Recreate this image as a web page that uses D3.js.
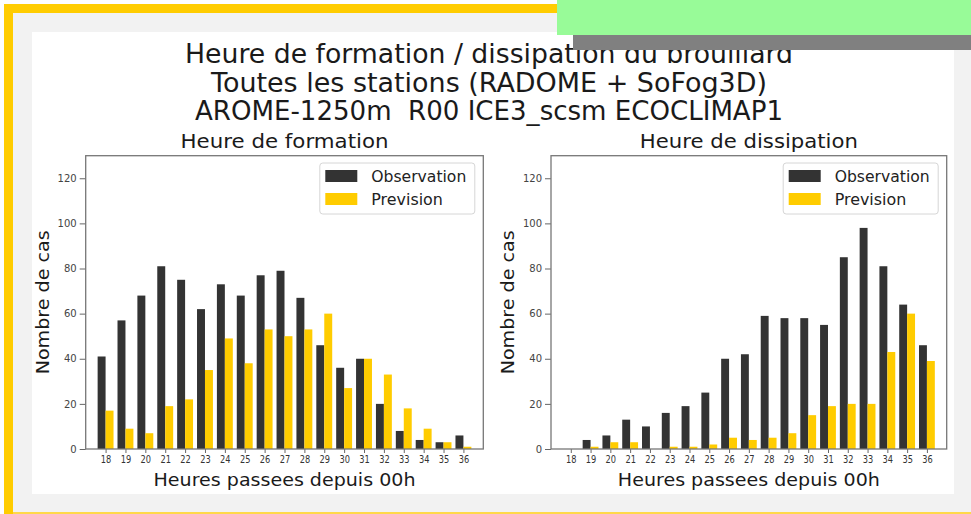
<!DOCTYPE html>
<html>
<head>
<meta charset="utf-8">
<script src="https://cdn.jsdelivr.net/npm/d3@7/dist/d3.min.js"></script>
<style>
  html, body { margin: 0; padding: 0; background: #fff; }
  svg { display: block; }
  text { font-family: "DejaVu Sans", sans-serif; }
</style>
</head>
<body>
<svg id="fig" width="971" height="514"></svg>
<script>
// Hours after 00h (18h of day D to 12h of day D+1)
const hours = [18,19,20,21,22,23,24,25,26,27,28,29,30,31,32,33,34,35,36];

// Fog onset counts
const formationObs  = [41,57,68,81,75,62,73,68,77,79,67,46,36,40,20,8,4,3,6];
const formationPrev = [17,9,7,19,22,35,49,38,53,50,53,60,27,40,33,18,9,3,1];

// Fog dissipation counts
const dissipationObs  = [0,4,6,13,10,16,19,25,40,42,59,58,58,55,85,98,81,64,46];
const dissipationPrev = [0,1,3,3,0,1,1,2,5,4,5,7,15,19,20,20,43,60,39];

const yTicks = [0,20,40,60,80,100,120];
const seriesNames = ["Observation", "Prevision"];
const titleLines = [
  "Heure de formation / dissipation du brouillard",
  "Toutes les stations (RADOME + SoFog3D)",
  "AROME-1250m  R00 ICE3_scsm ECOCLIMAP1"
];

const colObs = "#333333", colPrev = "#ffcc00";
const svg = d3.select("#fig");

// page frame
svg.append("rect").attr("x",0).attr("y",0).attr("width",971).attr("height",514).attr("fill","#fdfdfd");
svg.append("rect").attr("x",13).attr("y",13).attr("width",958).attr("height",499).attr("fill","#f2f2f2");
svg.append("rect").attr("x",4).attr("y",4).attr("width",9).attr("height",510).attr("fill","#ffcc00");
svg.append("rect").attr("x",4).attr("y",4).attr("width",560).attr("height",9).attr("fill","#ffcc00");
svg.append("rect").attr("x",13).attr("y",512).attr("width",958).attr("height",2).attr("fill","#ffd84a");
svg.append("rect").attr("x",32).attr("y",32).attr("width",922).attr("height",462).attr("fill","#ffffff");

// helper: text stretched to a given width
function fitText(sel, w) {
  sel.attr("textLength", w).attr("lengthAdjust", "spacingAndGlyphs");
  return sel;
}

// main title
const titleY = [63, 91.5, 120];
const titleW = [608, 556, 588];
titleLines.forEach((t, i) => {
  fitText(svg.append("text")
    .attr("x", 489).attr("y", titleY[i])
    .attr("text-anchor", "middle")
    .attr("font-size", 26)
    .attr("fill", "#1a1a1a")
    .style("white-space", "pre")
    .text(t), titleW[i]);
});

function panel(left, right, title, titleW, obs, prev) {
  const top = 155.7, bottom = 449;
  const x = d3.scaleLinear().domain([17, 37]).range([left, right]);
  const y = d3.scaleLinear().domain([0, 130]).range([bottom, top]);
  const bw = x(0.4) - x(0);
  const g = svg.append("g");

  g.append("rect").attr("x", left).attr("y", top)
    .attr("width", right - left).attr("height", bottom - top).attr("fill", "#fff");

  g.selectAll(".obs").data(hours).join("rect")
    .attr("x", (h) => x(h) - bw)
    .attr("y", (h, i) => y(obs[i]))
    .attr("width", bw)
    .attr("height", (h, i) => y(0) - y(obs[i]))
    .attr("fill", colObs);

  g.selectAll(".prev").data(hours).join("rect")
    .attr("x", (h) => x(h))
    .attr("y", (h, i) => y(prev[i]))
    .attr("width", bw)
    .attr("height", (h, i) => y(0) - y(prev[i]))
    .attr("fill", colPrev);

  // axes
  const ax = g.append("g").attr("transform", `translate(0,${bottom})`)
    .call(d3.axisBottom(x).tickValues(hours).tickSize(4).tickPadding(3).tickFormat(d3.format("d")));
  ax.select(".domain").remove();
  ax.selectAll("line").attr("stroke", "#666");
  ax.selectAll("text").attr("font-size", 10).attr("fill", "#333")
    .attr("textLength", 10.5).attr("lengthAdjust", "spacingAndGlyphs");

  const ay = g.append("g").attr("transform", `translate(${left},0)`)
    .call(d3.axisLeft(y).tickValues(yTicks).tickSize(6).tickPadding(3));
  ay.select(".domain").remove();
  ay.selectAll("line").attr("stroke", "#666");
  ay.selectAll("text").attr("font-size", 10).attr("fill", "#444");

  // frame
  g.append("rect").attr("x", left).attr("y", top)
    .attr("width", right - left).attr("height", bottom - top)
    .attr("fill", "none").attr("stroke", "#777").attr("stroke-width", 1.3);

  // subplot title
  const cx = (left + right) / 2;
  fitText(g.append("text").attr("x", cx).attr("y", 148)
    .attr("text-anchor", "middle").attr("font-size", 20).attr("fill", "#1a1a1a")
    .text(title), titleW);

  // axis labels
  fitText(g.append("text").attr("x", cx).attr("y", 486)
    .attr("text-anchor", "middle").attr("font-size", 18).attr("fill", "#1a1a1a")
    .text("Heures passees depuis 00h"), 262);
  fitText(g.append("text")
    .attr("transform", `translate(${left - 37},${(top + bottom) / 2}) rotate(-90)`)
    .attr("text-anchor", "middle").attr("font-size", 18.5).attr("fill", "#1a1a1a")
    .text("Nombre de cas"), 144);

  // legend
  const lx = right - 163.5, ly = 163;
  const lg = g.append("g");
  lg.append("rect").attr("x", lx).attr("y", ly).attr("width", 155).attr("height", 51)
    .attr("rx", 3).attr("fill", "#fff").attr("fill-opacity", 0.8)
    .attr("stroke", "#d6d6d6").attr("stroke-width", 1);
  const lw = [95, 71.6];
  [colObs, colPrev].forEach((c, i) => {
    lg.append("rect").attr("x", lx + 5.5).attr("y", ly + 7 + i * 23)
      .attr("width", 32).attr("height", 12).attr("fill", c);
    fitText(lg.append("text").attr("x", lx + 51.5).attr("y", ly + 19 + i * 23)
      .attr("font-size", 15).attr("fill", "#222")
      .text(seriesNames[i]), lw[i]);
  });
}

panel(85.7, 483.3, "Heure de formation", 208, formationObs, formationPrev);
panel(551, 946.7, "Heure de dissipation", 218, dissipationObs, dissipationPrev);

// overlays on the upper right corner
svg.append("rect").attr("x", 557).attr("y", 0).attr("width", 414).attr("height", 35).attr("fill", "#98fb98");
svg.append("rect").attr("x", 573).attr("y", 35).attr("width", 398).attr("height", 15).attr("fill", "#808080");
</script>
</body>
</html>
